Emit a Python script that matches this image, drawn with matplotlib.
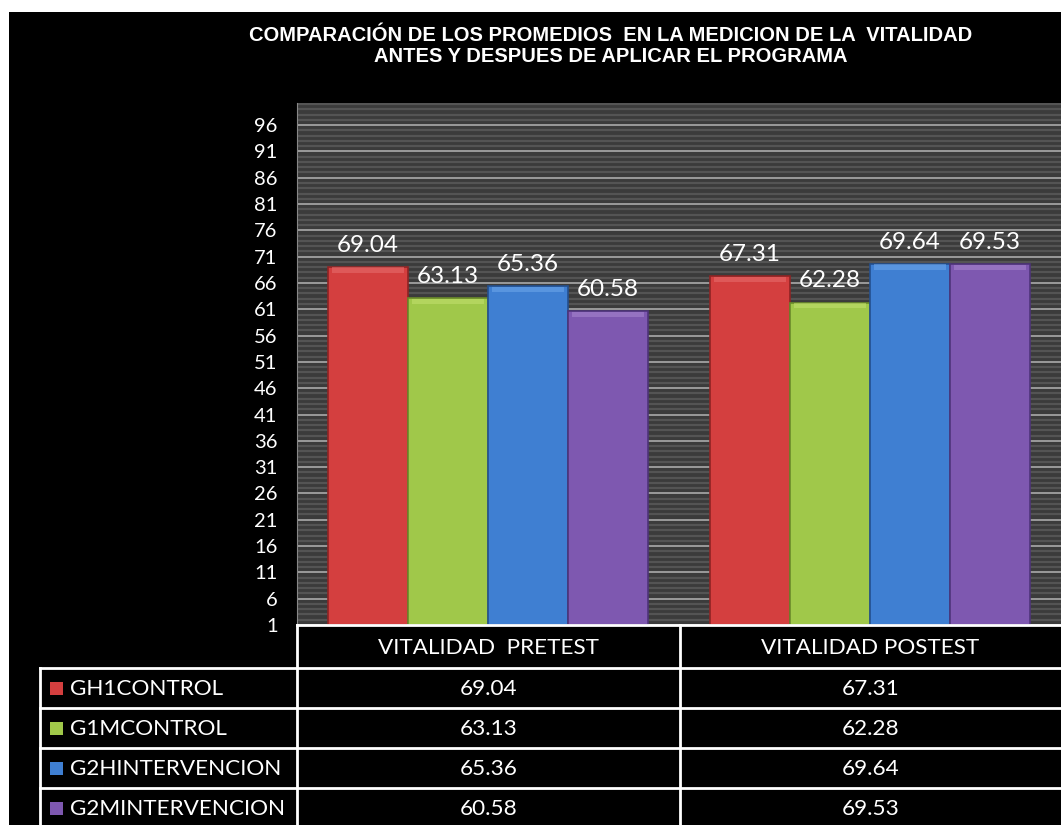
import matplotlib
matplotlib.use("Agg")
import matplotlib.pyplot as plt
import numpy as np
from matplotlib.patches import Rectangle
from matplotlib.lines import Line2D

# ---- data ----
categories = ["VITALIDAD  PRETEST", "VITALIDAD POSTEST"]
series_names = ["GH1CONTROL", "G1MCONTROL", "G2HINTERVENCION", "G2MINTERVENCION"]
gh1control = [69.04, 67.31]
g1mcontrol = [63.13, 62.28]
g2hintervencion = [65.36, 69.64]
g2mintervencion = [60.58, 69.53]
yticks = list(range(1, 97, 5))
title = ("COMPARACIÓN DE LOS PROMEDIOS  EN LA MEDICION DE LA  VITALIDAD\n"
         "ANTES Y DESPUES DE APLICAR EL PROGRAMA")

series_values = [gh1control, g1mcontrol, g2hintervencion, g2mintervencion]
colors = ["#d43f3f", "#a0c84a", "#3f7fd2", "#7e58b0"]
edges = ["#8e2424", "#6a8a2a", "#24508e", "#4e347a"]
highlights = ["#e87070", "#c4e070", "#70a8ea", "#a888d0"]

W, H = 1061, 825
fig = plt.figure(figsize=(W / 100, H / 100), dpi=100)
fig.patch.set_facecolor("white")

# black background panel (white strip at top and left)
bg = fig.add_axes([0, 0, 1, 1], zorder=0)
bg.set_xlim(0, W)
bg.set_ylim(H, 0)
bg.axis("off")
bg.add_patch(Rectangle((9, 12), W - 9, H - 12, facecolor="black", edgecolor="none"))

# ---- main chart ----
ax = fig.add_axes([297 / W, 1 - 625 / H, 1 - 297 / W, (625 - 103) / H], zorder=2)
ax.set_facecolor("#3b3b3b")
x = np.arange(len(categories))
bw = 80 / 382
for i, (vals, c, ec, hc) in enumerate(zip(series_values, colors, edges, highlights)):
    pos = x + (i - 1.5) * bw
    ax.bar(pos, np.array(vals) - 1, bottom=1, width=bw, color=c,
           edgecolor=ec, linewidth=1.2, zorder=3)
    # bevel highlight along the top of each bar
    ax.bar(pos, [1.0] * len(vals), bottom=np.array(vals) - 1.1, width=bw * 0.9,
           color=hc, edgecolor="none", alpha=0.55, zorder=3.5)
    for p, v in zip(pos, vals):
        ax.annotate(f"{v:.2f}", (p, v), xytext=(0, 11), textcoords="offset points",
                    ha="center", va="baseline", color="white",
                    fontsize=17.5, family=["Lato", "DejaVu Sans"], zorder=4)

ax.set_xlim(-0.5, 1.5)
ax.set_ylim(1, 100.2)
ax.set_yticks(yticks)
ax.set_yticks(np.arange(1, 101, 1), minor=True)
ax.grid(which="minor", axis="y", color="#545454", linewidth=1.6, zorder=0)
ax.grid(which="major", axis="y", color="#9a9a9a", linewidth=1.4, zorder=1)
ax.set_axisbelow(True)
ax.set_xticks([])
ax.tick_params(axis="y", which="both", length=0, pad=14, labelcolor="white",
               labelsize=14.5)
for lab in ax.get_yticklabels():
    lab.set_family(["Lato", "DejaVu Sans"])
for s in ["top", "right", "bottom"]:
    ax.spines[s].set_visible(False)
ax.spines["left"].set_color("#888888")

# ---- title ----
fig.text(611 / W, 1 - 46 / H, title, ha="center", va="center", color="white",
         fontsize=14.5, fontweight="bold", linespacing=1.15,
         family=["Liberation Sans Narrow", "Liberation Sans", "DejaVu Sans"])

# ---- data table ----
tab = fig.add_axes([0, 0, 1, 1], zorder=3)
tab.set_xlim(0, W)
tab.set_ylim(H, 0)
tab.axis("off")
lw = 2.0
col_x = [40, 297, 680, W]
header_top, header_bot = 625, 668
row_h = 40
tab.add_line(Line2D([297, W], [header_top, header_top], color="white", lw=lw))
tab.add_line(Line2D([40, W], [header_bot, header_bot], color="white", lw=lw))
for r in range(1, len(series_names)):
    yy = header_bot + r * row_h
    tab.add_line(Line2D([40, W], [yy, yy], color="white", lw=lw))
tab.add_line(Line2D([40, 40], [header_bot, H], color="white", lw=lw))
tab.add_line(Line2D([297, 297], [header_top, H], color="white", lw=lw))
tab.add_line(Line2D([680, 680], [header_top, H], color="white", lw=lw))

tfont = dict(color="white", fontsize=16.2, family=["Lato", "DejaVu Sans"])
col_centers = [(col_x[1] + col_x[2]) / 2, (col_x[2] + col_x[3]) / 2]
for cx, cat in zip(col_centers, categories):
    tab.text(cx, (header_top + header_bot) / 2 + 1, cat, ha="center", va="center", **tfont)
for r, (name, vals, c) in enumerate(zip(series_names, series_values, colors)):
    cy = header_bot + r * row_h + row_h / 2
    tab.add_patch(Rectangle((50, cy - 6.5), 13, 13, facecolor=c, edgecolor="none"))
    tab.text(70, cy + 1, name, ha="left", va="center", **tfont)
    for cx, v in zip(col_centers, vals):
        tab.text(cx, cy + 1, f"{v:.2f}", ha="center", va="center", **tfont)

fig.savefig("out.png", dpi=100, facecolor=fig.get_facecolor())
